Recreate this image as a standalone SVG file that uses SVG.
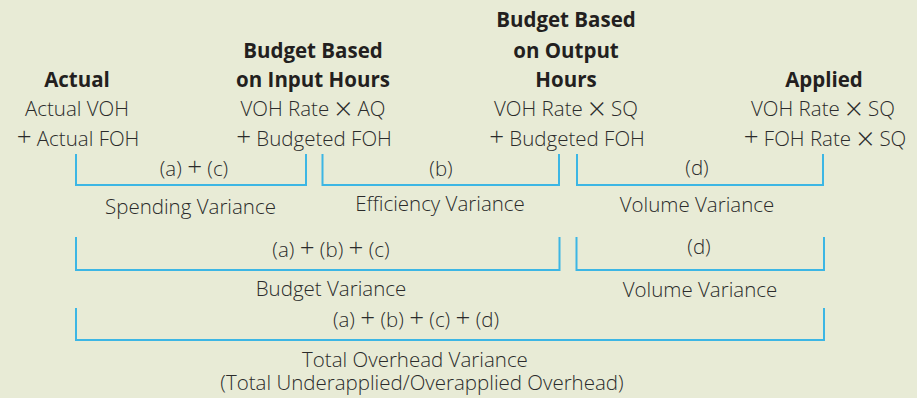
<svg xmlns="http://www.w3.org/2000/svg" width="917" height="398" viewBox="0 0 917 398">
<style>
.t{font-family:"Open Sans","Liberation Sans",sans-serif;font-size:20.5px;font-weight:300;fill:#2b2b2b;text-anchor:middle}
.h{font-family:"Open Sans","Liberation Sans",sans-serif;font-size:20.5px;font-weight:700;fill:#231f20;text-anchor:middle}
.op{font-size:26px;font-weight:300}
.x{font-size:31px;font-weight:300}
.br{fill:none;stroke:#3cb6e4;stroke-width:2}
</style>
<rect width="917" height="398" fill="#e8ebd6"/>
<g id="col-actual">
<text class="h" x="77" y="87">Actual</text>
<text class="t" x="77" y="116">Actual VOH</text>
<text class="t" x="78" y="146"><tspan class="op">+</tspan> Actual FOH</text>
</g>
<g id="col-input">
<text class="h" x="313" y="58">Budget Based</text>
<text class="h" x="313" y="87">on Input Hours</text>
<text class="t" x="313" y="116">VOH Rate <tspan class="x" dy="3.5">×</tspan><tspan dy="-3.5"> AQ</tspan></text>
<text class="t" x="314" y="146"><tspan class="op">+</tspan> Budgeted FOH</text>
</g>
<g id="col-output">
<text class="h" x="566" y="27">Budget Based</text>
<text class="h" x="566" y="58">on Output</text>
<text class="h" x="566" y="87">Hours</text>
<text class="t" x="566" y="116">VOH Rate <tspan class="x" dy="3.5">×</tspan><tspan dy="-3.5"> SQ</tspan></text>
<text class="t" x="567" y="146"><tspan class="op">+</tspan> Budgeted FOH</text>
</g>
<g id="col-applied">
<text class="h" x="824" y="87">Applied</text>
<text class="t" x="823" y="116">VOH Rate <tspan class="x" dy="3.5">×</tspan><tspan dy="-3.5"> SQ</tspan></text>
<text class="t" x="825" y="146"><tspan class="op">+</tspan> FOH Rate <tspan class="x" dy="3.5">×</tspan><tspan dy="-3.5"> SQ</tspan></text>
</g>
<g id="connectors">
<path class="br" d="M76,154V185H306V154"/>
<path class="br" d="M322.5,154V185H559V154"/>
<path class="br" d="M577,154V185H823V154"/>
<path class="br" d="M76,237V270H559.5V237"/>
<path class="br" d="M576.5,237V270H824V237"/>
<path class="br" d="M76,308V340H824V308"/>
</g>
<g id="row1">
<text class="t" x="194" y="176">(a) <tspan class="op">+</tspan> (c)</text>
<text class="t" x="441" y="176">(b)</text>
<text class="t" x="697" y="175">(d)</text>
<text class="t" x="190.5" y="214">Spending Variance</text>
<text class="t" x="440" y="211">Efficiency Variance</text>
<text class="t" x="697" y="211.5">Volume Variance</text>
</g>
<g id="row2">
<text class="t" x="331" y="257">(a) <tspan class="op">+</tspan> (b) <tspan class="op">+</tspan> (c)</text>
<text class="t" x="699" y="254">(d)</text>
<text class="t" x="331" y="296">Budget Variance</text>
<text class="t" x="700" y="296.5">Volume Variance</text>
</g>
<g id="row3">
<text class="t" x="416" y="327">(a) <tspan class="op">+</tspan> (b) <tspan class="op">+</tspan> (c) <tspan class="op">+</tspan> (d)</text>
<text class="t" x="415" y="367">Total Overhead Variance</text>
<text class="t" x="422" y="390">(Total Underapplied/Overapplied Overhead)</text>
</g>
</svg>
